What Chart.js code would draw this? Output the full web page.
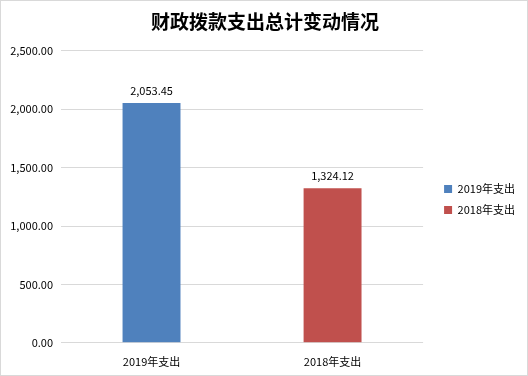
<!DOCTYPE html>
<html>
<head>
<meta charset="utf-8">
<script src="https://cdn.jsdelivr.net/npm/chart.js@4/dist/chart.umd.min.js"></script>
<style>
    html, body { margin: 0; padding: 0; background: #fff; }
    #wrap { width: 528px; height: 376px; box-sizing: border-box; border: 1px solid #d9d9d9; }
</style>
</head>
<body>
<div id="wrap"><canvas id="budgetPlot" width="526" height="374"></canvas></div>
<script>
var categories = ['2019年支出', '2018年支出'];
var spending = [2053.45, 1324.12];
var barColors = ['#4f81bd', '#c0504d'];
var yTicks = [0, 500, 1000, 1500, 2000, 2500];

var fontFamily = '"Microsoft YaHei", "Noto Sans CJK SC", "Liberation Sans", sans-serif';
var LEGEND_GAP = 11;
var LEGEND_DROP = 11;

function money(v)
{
    return v.toLocaleString('en-US', {minimumFractionDigits: 2, maximumFractionDigits: 2});
}

// draws the value above each bar
var valueLabels = {
    id: 'valueLabels',
    afterDatasetsDraw: function(chart) {
        var ctx = chart.ctx;
        ctx.save();
        ctx.font = '11px ' + fontFamily;
        ctx.fillStyle = '#000';
        ctx.textAlign = 'center';
        ctx.textBaseline = 'bottom';
        chart.data.datasets.forEach(function(ds, i) {
            chart.getDatasetMeta(i).data.forEach(function(bar, j) {
                if (ds.data[j] == null)
                    return;
                ctx.fillText(money(ds.data[j]), bar.x, bar.y - 7);
            });
        });
        ctx.restore();
    }
};

// leave some air between the plot and the legend, and sit it a bit lower
var legendGap = {
    id: 'legendGap',
    beforeUpdate: function(chart) {
        var lg = chart.legend;
        if (lg && !lg._gapWrapped) {
            var fit = lg.fit;
            lg.fit = function() {
                fit.call(this);
                this.width += LEGEND_GAP;
            };
            lg._gapWrapped = true;
        }
    },
    afterLayout: function(chart) {
        var lg = chart.legend;
        if (lg) {
            lg.left += LEGEND_GAP;
            lg.top += LEGEND_DROP;
            lg.bottom += LEGEND_DROP;
        }
    }
};

// one dataset per year so the legend shows both colours
var datasets = categories.map(function(name, i) {
    var values = categories.map(function(c, j) { return j == i ? spending[i] : null; });
    return {
        label: name,
        data: values,
        backgroundColor: barColors[i],
        barPercentage: 0.32,
        categoryPercentage: 1.0,
        skipNull: true
    };
});

new Chart(document.getElementById('budgetPlot'), {
    type: 'bar',
    data: {
        labels: categories,
        datasets: datasets
    },
    options: {
        responsive: false,
        animation: false,
        layout: {
            padding: {left: 4, right: 2, top: 4, bottom: 3}
        },
        plugins: {
            title: {
                display: true,
                text: '财政拨款支出总计变动情况',
                color: '#000',
                font: {family: fontFamily, size: 19, weight: 'bold'},
                padding: {top: 5, bottom: 18}
            },
            legend: {
                position: 'right',
                labels: {
                    boxWidth: 8,
                    boxHeight: 8,
                    color: '#000',
                    font: {family: fontFamily, size: 11},
                    padding: 10
                }
            },
            tooltip: {enabled: false}
        },
        scales: {
            x: {
                grid: {display: false},
                border: {display: false},
                ticks: {color: '#000', font: {family: fontFamily, size: 11}, padding: 4}
            },
            y: {
                min: 0,
                max: 2500,
                afterBuildTicks: function(axis) {
                    axis.ticks = yTicks.map(function(v) { return {value: v}; });
                },
                afterFit: function(axis) {
                    axis.width = 56;
                },
                grid: {color: '#d9d9d9', drawTicks: false},
                border: {display: false},
                ticks: {
                    color: '#000',
                    font: {family: fontFamily, size: 11},
                    padding: 8,
                    callback: function(v) { return money(v); }
                }
            }
        }
    },
    plugins: [valueLabels, legendGap]
});
</script>
</body>
</html>
